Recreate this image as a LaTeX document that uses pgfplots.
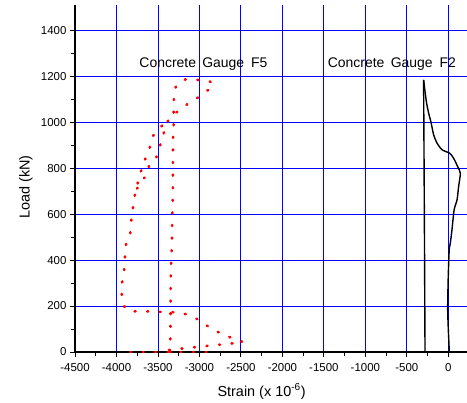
\documentclass[border=0pt]{standalone}
\usepackage{fontspec}
\setmainfont{Liberation Sans}
\usepackage{pgfplots}
\pgfplotsset{compat=1.18}

\begin{document}
\begin{tikzpicture}
\begin{axis}[
  scale only axis, width=392bp, height=347bp,
  xmin=-4500, xmax=225, ymin=0, ymax=1510,
  axis x line=bottom, axis y line=left,
  axis line style={-, line width=1.2bp, black},
  xtick={-4500,-4000,...,0}, ytick={0,200,...,1400},
  minor x tick num=1, minor y tick num=1,
  tick align=outside, major tick length=5bp, minor tick length=4bp,
  every tick/.style={black, line width=0.9bp},
  grid=major, major grid style={blue, line width=0.9bp},
  ticklabel style={font=\fontsize{11.5}{12}\selectfont},
  xticklabel style={yshift=-3bp},
  /pgf/number format/assume math mode=true,
  /pgf/number format/set thousands separator={},
  xlabel={Strain (x 10\textsuperscript{-6})},
  ylabel={Load (kN)},
  label style={font=\fontsize{14.5}{16}\selectfont},
  xlabel style={at={(axis description cs:0.476,-0.127)}, anchor=base},
  ylabel style={at={(axis description cs:-0.125,0.475)}, anchor=center, rotate=0},
  clip=false,
  gauge/.style={red, line width=2.6bp, line cap=round, dash pattern=on 1bp off 11.6bp},
]

% Gauge F5: vertical branch, peak and return
\addplot[gauge, smooth, tension=0.4] coordinates {
  (-3352,0) (-3350,60) (-3348,235) (-3344,351) (-3340,409) (-3332,467)
  (-3328,580) (-3320,700) (-3320,817) (-3318,930) (-3312,987)
  (-3308,1100) (-3280,1159) (-3168,1186) (-3028,1184) (-2892,1180)
  (-2832,1161) (-2932,1130) (-3060,1097) (-3168,1073) (-3296,1037)
  (-3388,1001) (-3424,961) (-3520,847) (-3600,819) (-3632,771)
  (-3700,745) (-3772,696)
};
% Gauge F5: outer branch
\addplot[gauge, smooth, tension=0.4] coordinates {
  (-3450,985) (-3536,953) (-3588,919) (-3600,887) (-3692,803)
  (-3772,696) (-3790,648) (-3816,601) (-3826,546) (-3840,503)
  (-3890,462) (-3898,413) (-3906,365) (-3915,322) (-3936,300)
  (-3940,260) (-3912,203) (-3880,188) (-3832,175) (-3772,177)
  (-3660,177) (-3528,175) (-3388,174) (-3268,172) (-3140,162)
  (-2996,137) (-2855,101) (-2720,78) (-2592,58) (-2475,42)
  (-2616,37) (-2757,32) (-2890,27) (-3027,22) (-3160,17)
  (-3293,12) (-3434,6)
};
% Gauge F5: base line
\addplot[gauge] coordinates {
  (-3837,0) (-3696,0) (-3563,0) (-3434,0) (-3165,0) (-3027,0) (-2897,0)
};

% Gauge F2
\addplot[black, line width=1.4bp, smooth, tension=0.4] coordinates {
  (12,0) (0,97) (-8,184) (-4,285) (4,387) (12,452) (24,474) (44,532)
  (70,619) (105,662) (124,720) (145,778) (112,807) (64,843) (16,865)
  (-76,880) (-136,909) (-177,945) (-209,1000) (-237,1039) (-265,1090)
  (-298,1184)
};
\addplot[black, line width=1.4bp] coordinates {
  (-298,1184) (-289,600) (-281,0) (-96,0)
};

\node[anchor=base west, font=\fontsize{14}{16}\selectfont, inner sep=0pt]
  at (axis cs:-3725,1236) {Concrete\hspace{0.45em}Gauge\hspace{0.5em}F5};
\node[anchor=base west, font=\fontsize{14}{16}\selectfont, inner sep=0pt]
  at (axis cs:-1454,1236) {Concrete\hspace{0.45em}Gauge\hspace{0.5em}F2};
\end{axis}
\pgfresetboundingbox
\path[use as bounding box] ([xshift=-75bp,yshift=-51bp]current axis.south west)
  rectangle ([yshift=5bp]current axis.north east);
\end{tikzpicture}
\end{document}
